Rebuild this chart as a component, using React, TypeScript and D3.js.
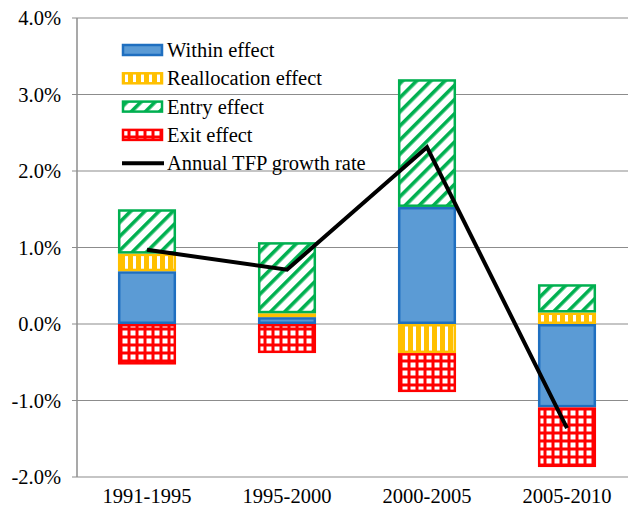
import React from "react";
import * as d3 from "d3";

const categories = ["1991-1995", "1995-2000", "2000-2005", "2005-2010"];
const withinEffect = [0.69, 0.09, 1.53, -1.09];
const reallocationEffect = [0.23, 0.05, -0.38, 0.15];
const entryEffect = [0.58, 0.93, 1.67, 0.37];
const exitEffect = [-0.53, -0.38, -0.51, -0.78];
const tfpGrowth = [0.97, 0.71, 2.31, -1.36];
const yTicks = [-2, -1, 0, 1, 2, 3, 4];

const seriesKeys = ["within", "realloc", "entry", "exit"];
const seriesLabels = ["Within effect", "Reallocation effect", "Entry effect", "Exit effect"];
const fills = ["#5B9BD5", "url(#pReal)", "url(#pEntry)", "url(#pExit)"];
const strokes = ["#1F6FC0", "#FFC000", "#00B050", "#FF0000"];

const fmt = d3.formatLocale({ decimal: ".", thousands: ",", grouping: [3], currency: ["", ""], minus: "-" }).format(".1f");

export default function App() {
  const W = 628, H = 513;
  const x0 = 77, x1 = 637;
  const y = d3.scaleLinear().domain([-2, 4]).range([477, 18]);
  const x = d3.scaleBand().domain(categories).range([x0, x1]).paddingInner(0.585).paddingOuter(0.2925);

  const table = categories.map((c, i) => ({
    cat: c,
    within: withinEffect[i],
    realloc: reallocationEffect[i],
    entry: entryEffect[i],
    exit: exitEffect[i],
  }));
  const stack = d3.stack<any>().keys(seriesKeys).offset(d3.stackOffsetDiverging);
  const layers = stack(table);

  const line = d3
    .line<number>()
    .x((_, i) => (x(categories[i]) as number) + x.bandwidth() / 2)
    .y((d) => y(d));

  const textStyle: React.CSSProperties = {
    fontFamily: '"Liberation Serif", "Times New Roman", "DejaVu Serif", serif',
    fontSize: "20.5px",
  };

  return (
    <svg width={W} height={H} style={{ position: "absolute", left: 0, top: 0 }}>
      <defs>
        <pattern id="pReal" patternUnits="userSpaceOnUse" width="8" height="8">
          <rect width="8" height="8" fill="#FFC000" />
          <rect x="5" width="3" height="8" fill="#fff" />
        </pattern>
        <pattern id="pEntry" patternUnits="userSpaceOnUse" width="10" height="10" patternTransform="rotate(45)">
          <rect width="10" height="10" fill="#fff" />
          <rect width="3.6" height="10" fill="#00B050" />
        </pattern>
        <pattern id="pExit" patternUnits="userSpaceOnUse" width="8" height="8">
          <rect width="8" height="8" fill="#FF0000" />
          <rect x="2.5" y="2.5" width="5" height="5" fill="#fff" />
        </pattern>
      </defs>

      {/* gridlines */}
      {yTicks.map((t) => (
        <g key={t}>
          <line x1={72} x2={x1} y1={y(t)} y2={y(t)} stroke="#8c8c8c" strokeWidth={1.2} />
          <text x={61} y={y(t) + 7} textAnchor="end" style={textStyle} fill="#000">
            {fmt(t) + "%"}
          </text>
        </g>
      ))}
      <line x1={x0} x2={x0} y1={y(4)} y2={y(-2)} stroke="#8c8c8c" strokeWidth={1.5} />

      {/* bars */}
      {layers.map((layer, li) => (
        <g key={layer.key}>
          {layer.map((d, i) => {
            const top = y(Math.max(d[0], d[1]));
            const bot = y(Math.min(d[0], d[1]));
            const h = bot - top;
            if (h < 0.5) return null;
            return (
              <rect
                key={i}
                x={(x(categories[i]) as number) + 1.25}
                y={top + 1.25}
                width={x.bandwidth() - 2.5}
                height={Math.max(0, h - 2.5)}
                fill={fills[li]}
                stroke={strokes[li]}
                strokeWidth={2.5}
              />
            );
          })}
        </g>
      ))}

      {/* TFP line */}
      <path d={line(tfpGrowth) || ""} fill="none" stroke="#000" strokeWidth={4} strokeLinejoin="miter" />

      {/* x labels */}
      {categories.map((c) => (
        <text key={c} x={(x(c) as number) + x.bandwidth() / 2} y={503} textAnchor="middle" style={textStyle} fill="#000">
          {c}
        </text>
      ))}

      {/* legend */}
      {seriesLabels.map((lab, i) => {
        const ly = 50 + i * 28.3;
        return (
          <g key={lab}>
            <rect x={123} y={ly - 5} width={39} height={10} fill={fills[i]} stroke={strokes[i]} strokeWidth={2.5} />
            <text x={167} y={ly + 7} style={textStyle} fill="#000">
              {lab}
            </text>
          </g>
        );
      })}
      <line x1={122} x2={164} y1={50 + 4 * 28.3} y2={50 + 4 * 28.3} stroke="#000" strokeWidth={4} />
      <text x={167} y={50 + 4 * 28.3 + 7} style={textStyle} fill="#000">
        Annual TFP growth rate
      </text>
    </svg>
  );
}
